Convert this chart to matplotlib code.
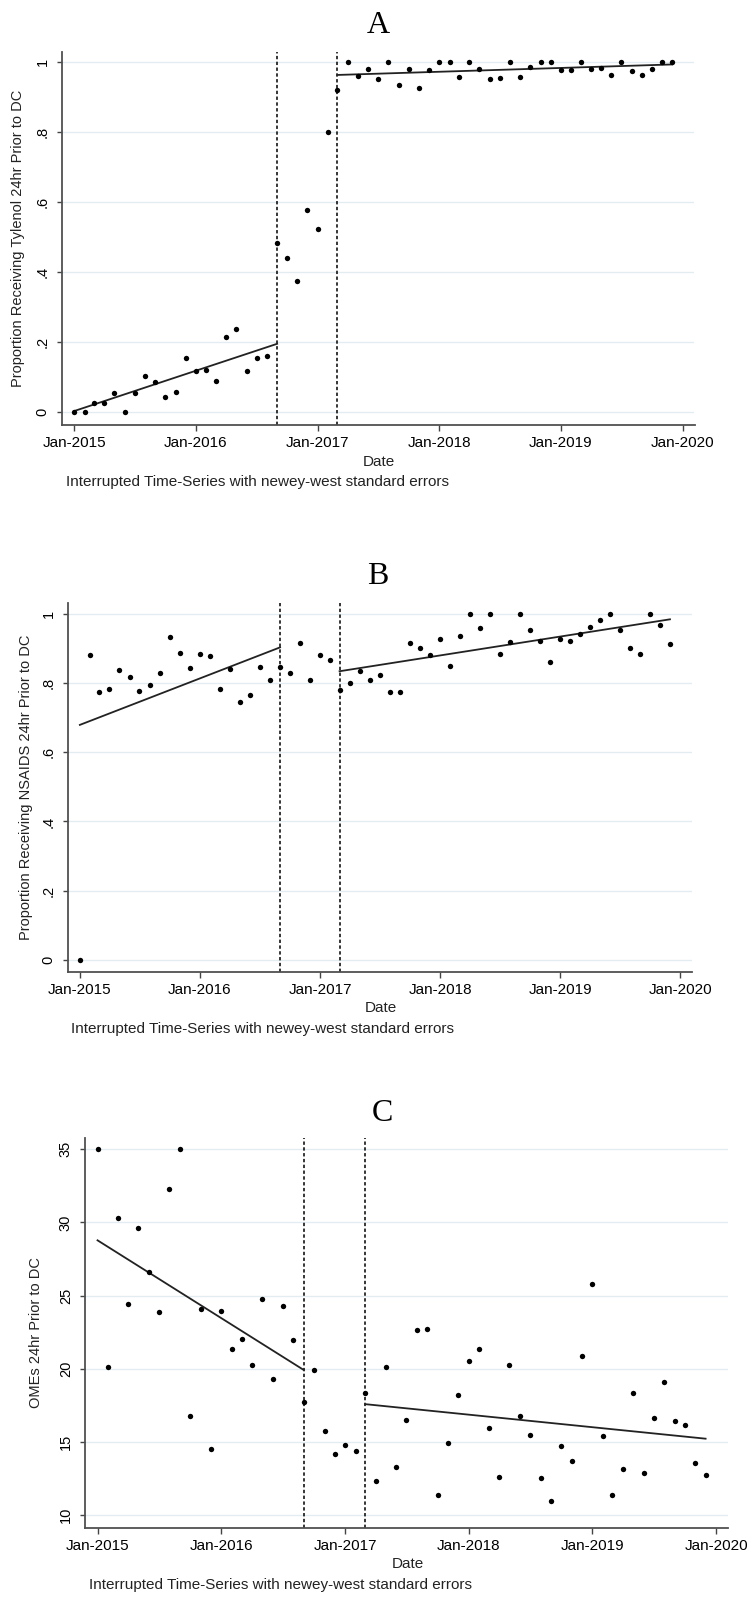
import numpy as np
import pandas as pd
import matplotlib
matplotlib.use("Agg")
import matplotlib.pyplot as plt

plt.rcParams["font.family"] = ["Liberation Sans", "DejaVu Sans"]

W, H = 751, 1601

months = pd.date_range("2015-01-01", periods=60, freq="MS")
year_ticks = pd.date_range("2015-01-01", "2020-01-01", freq="YS")
year_labels = [d.strftime("%b-%Y") for d in year_ticks]
interruptions = [pd.Timestamp("2016-09-01"), pd.Timestamp("2017-03-01")]
x_range = (pd.Timestamp("2014-11-25"), pd.Timestamp("2020-02-06"))

tylenol = [0, 0, 0.025, 0.027, 0.053, 0, 0.054, 0.103, 0.086, 0.044,
           0.056, 0.155, 0.117, 0.121, 0.09, 0.214, 0.236, 0.117, 0.155, 0.161,
           0.482, 0.441, 0.375, 0.577, 0.524, 0.80, 0.921,
           1.0, 0.959, 0.981, 0.952, 1.0, 0.933, 0.979, 0.926, 0.977, 1.0,
           1.0, 0.957, 1.0, 0.981, 0.952, 0.953, 1.0, 0.958, 0.985, 1.0,
           1.0, 0.976, 0.976, 1.0, 0.98, 0.982, 0.964, 1.0, 0.975, 0.962,
           0.98, 1.0, 1.0]
nsaids = [0, 0.882, 0.775, 0.784, 0.839, 0.816, 0.778, 0.793, 0.828, 0.934,
          0.886, 0.844, 0.883, 0.878, 0.782, 0.841, 0.746, 0.766, 0.845, 0.809,
          0.845, 0.830, 0.917, 0.808, 0.881, 0.867, 0.779,
          0.80, 0.836, 0.808, 0.823, 0.773, 0.773, 0.915, 0.90, 0.88, 0.928,
          0.85, 0.936, 1.0, 0.96, 1.0, 0.884, 0.918, 1.0, 0.952, 0.92,
          0.862, 0.926, 0.922, 0.941, 0.961, 0.982, 1.0, 0.952, 0.90, 0.884,
          1.0, 0.967, 0.912]
omes = [35, 20.11, 30.3, 24.43, 29.6, 26.6, 23.86, 32.3, 35, 16.77,
        24.1, 14.52, 23.95, 21.39, 22.02, 20.25, 24.75, 19.32, 24.32, 22.0,
        17.73, 19.95, 15.73, 14.2, 14.77, 14.39, 18.32, 12.36, 20.14, 13.27,
        16.5, 22.66, 22.7, 11.36, 14.95, 18.2, 20.55, 21.36, 15.95, 12.6,
        20.27, 16.77, 15.5, 12.52, 10.95, 14.7, 13.73, 20.86, 25.77, 15.43,
        11.36, 13.18, 18.32, 12.86, 16.66, 19.11, 16.43, 16.14, 13.55, 12.73]

# fitted segments: (first month idx, last month idx, start value, end value)
tylenol_fit = [(0, 20, 0.003, 0.195), (26, 59, 0.963, 0.993)]
nsaids_fit = [(0, 20, 0.679, 0.903), (26, 59, 0.834, 0.984)]
omes_fit = [(0, 20, 28.78, 19.92), (26, 59, 17.59, 15.23)]

prop_ticks = [0, 0.2, 0.4, 0.6, 0.8, 1.0]
prop_labels = ["0", ".2", ".4", ".6", ".8", "1"]
ome_ticks = [10, 15, 20, 25, 30, 35]
ome_labels = ["10", "15", "20", "25", "30", "35"]

caption = "Interrupted Time-Series with newey-west standard errors"


def draw_panel(fig, box, values, fits, ylim, yticks, ylabels, ylabel, title,
               title_xy, ylabel_x, caption_x):
    left, top, right, bottom = box
    ax = fig.add_axes([left / W, 1 - bottom / H, (right - left) / W, (bottom - top) / H])
    ax.set_xlim(*x_range)
    ax.set_ylim(*ylim)
    ax.yaxis.grid(True, color="#e3edf1", lw=1.0)
    ax.set_axisbelow(True)

    for d in interruptions:
        ax.axvline(d, color="black", lw=1.1, linestyle=(0, (2.2, 1.6)), zorder=2)
    for a, b, va, vb in fits:
        ax.plot([months[a], months[b]], [va, vb], color="#222222", lw=1.3, zorder=3)
    ax.scatter(months, values, s=15, color="black", linewidths=0, zorder=4)

    ax.set_xticks(year_ticks)
    ax.set_xticklabels(year_labels)
    ax.set_yticks(yticks)
    ax.set_yticklabels(ylabels)
    for lab in ax.get_yticklabels():
        lab.set_rotation(90)
        lab.set_va("center")
    ax.tick_params(axis="x", length=4.5, width=1.0, color="#444444", labelsize=11, pad=3.5)
    ax.tick_params(axis="y", length=3.8, width=1.0, color="#444444", labelsize=10.5, pad=5)
    for s in ["top", "right"]:
        ax.spines[s].set_visible(False)
    for s in ["left", "bottom"]:
        ax.spines[s].set_color("#505050")
        ax.spines[s].set_linewidth(1.3)

    mid_y = (top + bottom) / 2
    fig.text(ylabel_x / W, 1 - mid_y / H, ylabel, rotation=90, ha="center",
             va="center", fontsize=10.5, color="#222222")
    fig.text(((left + right) / 2 + 1) / W, 1 - (bottom + 36.5) / H, "Date",
             ha="center", va="center", fontsize=11, color="#222222")
    fig.text(caption_x / W, 1 - (bottom + 57) / H, caption, ha="left",
             va="center", fontsize=11, color="#222222")
    fig.text(title_xy[0] / W, 1 - title_xy[1] / H, title, ha="center",
             va="baseline", fontsize=23, family="Liberation Serif")
    return ax


fig = plt.figure(figsize=(W / 100, H / 100), dpi=100)

draw_panel(fig, (62, 51.5, 694.5, 425), tylenol, tylenol_fit, (-0.037, 1.03),
           prop_ticks, prop_labels, "Proportion Receiving Tylenol 24hr Prior to DC",
           "A", (378, 33), 18, 66)
draw_panel(fig, (67.7, 602.7, 692, 971.7), nsaids, nsaids_fit, (-0.034, 1.032),
           prop_ticks, prop_labels, "Proportion Receiving NSAIDS 24hr Prior to DC",
           "B", (378, 584), 26, 71)
draw_panel(fig, (85, 1137.7, 728.3, 1527.7), omes, omes_fit, (9.15, 35.79),
           ome_ticks, ome_labels, "OMEs 24hr Prior to DC",
           "C", (382.7, 1121), 36, 88.7)

fig.savefig("out.png", dpi=100)
